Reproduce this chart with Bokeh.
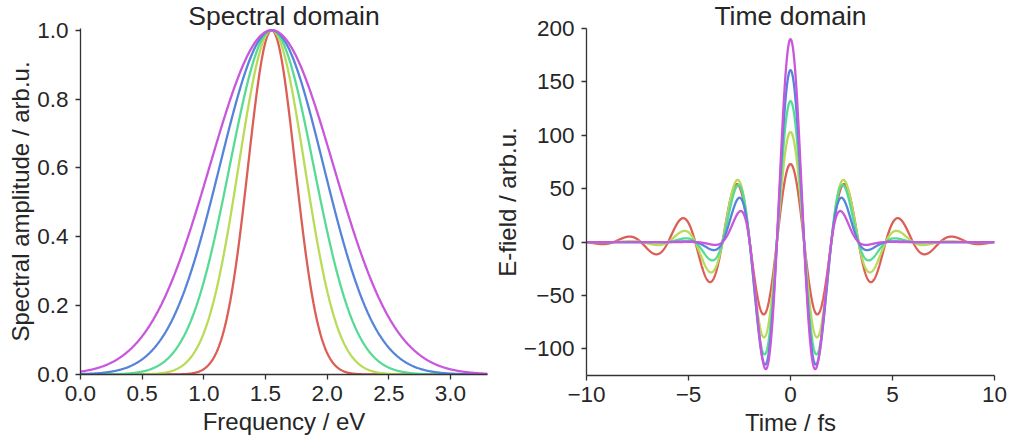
import numpy as np
from bokeh.plotting import figure
from bokeh.layouts import row
from bokeh.models import Range1d, FixedTicker
from bokeh.embed import file_html
from bokeh.resources import INLINE

# ---- values ----
center_eV = 1.55                                  # spectral centre (peak position)
fwhm_eV = [0.45, 0.63, 0.80, 0.99, 1.18]          # spectral FWHM of each curve
peak_field = [73, 103, 132, 161, 190]             # peak E-field at t = 0 of each curve
colors = ["#db5f57", "#b9db57", "#57db94", "#5784db", "#c957db"]

freq_ticks = [0.0, 0.5, 1.0, 1.5, 2.0, 2.5, 3.0]
freq_labels = ["0.0", "0.5", "1.0", "1.5", "2.0", "2.5", "3.0"]
amp_ticks = [0.0, 0.2, 0.4, 0.6, 0.8, 1.0]
amp_labels = ["0.0", "0.2", "0.4", "0.6", "0.8", "1.0"]
time_ticks = [-10, -5, 0, 5, 10]
time_labels = ["\u221210", "\u22125", "0", "5", "10"]
field_ticks = [-100, -50, 0, 50, 100, 150, 200]
field_labels = ["\u2212100", "\u221250", "0", "50", "100", "150", "200"]

HBAR = 0.6582  # eV*fs

FONT = "Liberation Sans"
INK = "#262626"


def style(p, xt, xl, yt, yl, title, standoff):
    p.outline_line_color = None
    p.xgrid.visible = False
    p.ygrid.visible = False
    p.background_fill_color = "white"
    p.border_fill_color = "white"
    p.xaxis.ticker = FixedTicker(ticks=xt)
    p.yaxis.ticker = FixedTicker(ticks=yt)
    p.xaxis.major_label_overrides = {t: l for t, l in zip(xt, xl)}
    p.yaxis.major_label_overrides = {t: l for t, l in zip(yt, yl)}
    for ax in (p.xaxis[0], p.yaxis[0]):
        ax.axis_line_color = "#333333"
        ax.axis_line_width = 1.3
        ax.major_tick_line_color = "#333333"
        ax.major_tick_line_width = 1.3
        ax.major_tick_out = 5
        ax.major_tick_in = 0
        ax.minor_tick_line_color = None
        ax.major_label_text_font = FONT
        ax.major_label_text_font_size = "22.5px"
        ax.major_label_text_color = INK
        ax.axis_label_text_font = FONT
        ax.axis_label_text_font_size = "24px"
        ax.axis_label_text_font_style = "normal"
        ax.axis_label_text_color = INK
    p.xaxis.major_label_standoff = 6
    p.xaxis.axis_label_standoff = 4
    p.yaxis.major_label_standoff = 7
    p.yaxis.axis_label_standoff = 0
    p.title.text = title
    p.title.align = "center"
    p.title.text_font = FONT
    p.title.text_font_size = "26.5px"
    p.title.text_font_style = "normal"
    p.title.text_color = INK
    p.title.standoff = standoff


# ---- left: spectral domain ----
freq = np.linspace(0.0, 3.3, 661)
p1 = figure(frame_width=407, frame_height=346, min_border_left=80, min_border_right=3,
            min_border_top=0, min_border_bottom=68,
            x_range=Range1d(0, 3.3), y_range=Range1d(0, 1.005),
            output_backend="svg", toolbar_location=None)
for fw, c in zip(fwhm_eV, colors):
    sigma = fw / (2 * np.sqrt(2 * np.log(2)))
    amp = np.exp(-(freq - center_eV) ** 2 / (2 * sigma ** 2))
    p1.line(freq, amp, line_color=c, line_width=2.3)
p1.xaxis.axis_label = "Frequency / eV"
p1.yaxis.axis_label = "Spectral amplitude / arb.u."
style(p1, freq_ticks, freq_labels, amp_ticks, amp_labels, "Spectral domain", -4)

# ---- right: time domain ----
t = np.linspace(-10, 10, 2001)
w0 = center_eV / HBAR
p2 = figure(frame_width=408, frame_height=347, min_border_left=92, min_border_right=18,
            min_border_top=0, min_border_bottom=68,
            x_range=Range1d(-10, 10), y_range=Range1d(-125, 200),
            output_backend="svg", toolbar_location=None)
for fw, a, c in zip(fwhm_eV, peak_field, colors):
    sigma_t = fw / (2 * np.sqrt(2 * np.log(2))) / HBAR
    field = a * np.exp(-(t * sigma_t) ** 2 / 2) * np.cos(w0 * t)
    p2.line(t, field, line_color=c, line_width=2.3)
p2.xaxis.axis_label = "Time / fs"
p2.yaxis.axis_label = "E-field / arb.u."
style(p2, time_ticks, time_labels, field_ticks, field_labels, "Time domain", -5)

layout = row(p1, p2)
open("out.html", "w").write(file_html(layout, INLINE))
